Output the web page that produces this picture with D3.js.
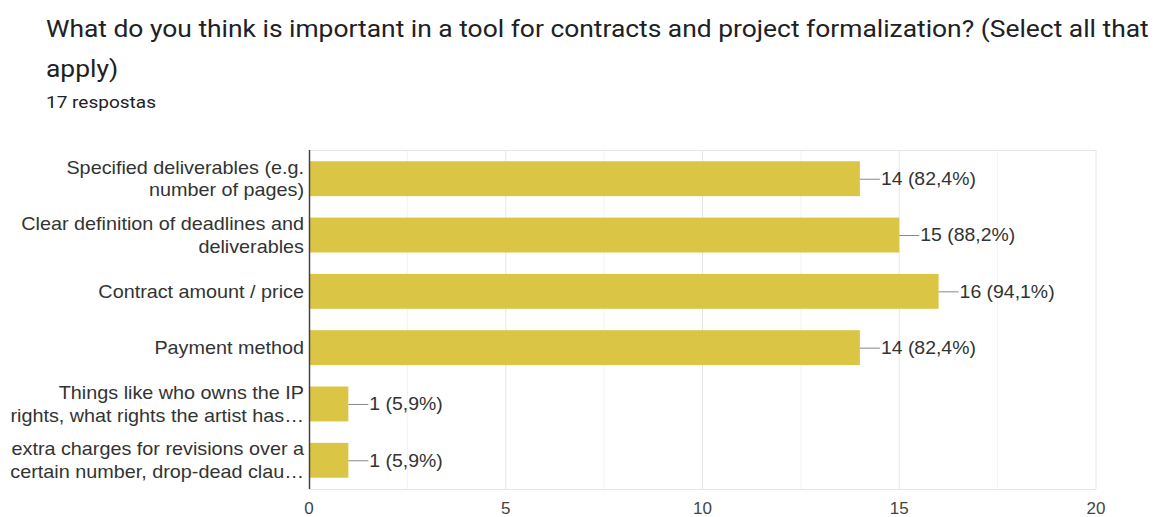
<!DOCTYPE html>
<html>
<head>
<meta charset="utf-8">
<script src="https://cdn.jsdelivr.net/npm/d3@7"></script>
<style>
  html, body { margin: 0; padding: 0; background: #ffffff; }
  svg { display: block; }
</style>
</head>
<body>
<svg id="chart" width="1153" height="517"></svg>
<script>
const titleLines = [
  "What do you think is important in a tool for contracts and project formalization? (Select all that",
  "apply)"
];
const subtitle = "17 respostas";
const categories = [
  "Specified deliverables (e.g.\nnumber of pages)",
  "Clear definition of deadlines and\ndeliverables",
  "Contract amount / price",
  "Payment method",
  "Things like who owns the IP\nrights, what rights the artist has…",
  "extra charges for revisions over a\ncertain number, drop-dead clau…"
];
const counts = [14, 15, 16, 14, 1, 1];
const percents = ["82,4%", "88,2%", "94,1%", "82,4%", "5,9%", "5,9%"];
const tickValues = [0, 5, 10, 15, 20];
const minorTicks = [2.5, 7.5, 12.5, 17.5];

const svg = d3.select("#chart");
const plot = { left: 309, right: 1096, top: 150, bottom: 489 };
const SX = 1.1; // horizontal stretch of text seen in the reference
const stretch = (x0, s = SX) => `translate(${x0},0) scale(${s},1) translate(${-x0},0)`;

// Title
svg.selectAll("text.title").data(titleLines).join("text")
  .attr("class", "title")
  .attr("x", 46)
  .attr("y", (d, i) => 37 + i * 40)
  .attr("transform", stretch(46))
  .attr("font-family", "Roboto, sans-serif")
  .attr("font-size", 24)
  .attr("fill", "#202124")
  .text(d => d);

svg.append("text")
  .attr("x", 46).attr("y", 108)
  .attr("transform", stretch(46, 1.12))
  .attr("font-family", "Roboto, sans-serif")
  .attr("font-size", 17)
  .attr("fill", "#202124")
  .text(subtitle);

const x = d3.scaleLinear().domain([0, 20]).range([plot.left, plot.right]);
const y = d3.scaleBand().domain(categories).range([plot.top, plot.bottom]).paddingInner(0.38).paddingOuter(0.2);

// minor grid
svg.append("g").selectAll("line").data(minorTicks).join("line")
  .attr("x1", d => x(d)).attr("x2", d => x(d))
  .attr("y1", plot.top).attr("y2", plot.bottom)
  .attr("stroke", "#f3f3f3").attr("stroke-width", 1);

// major grid
svg.append("g").selectAll("line").data(tickValues.slice(1)).join("line")
  .attr("x1", d => x(d)).attr("x2", d => x(d))
  .attr("y1", plot.top).attr("y2", plot.bottom)
  .attr("stroke", "#e6e6e6").attr("stroke-width", 1);

// top & bottom borders
svg.append("line").attr("x1", plot.left).attr("x2", plot.right)
  .attr("y1", plot.top + 0.5).attr("y2", plot.top + 0.5)
  .attr("stroke", "#e6e6e6");
svg.append("line").attr("x1", plot.left).attr("x2", plot.right)
  .attr("y1", plot.bottom + 0.5).attr("y2", plot.bottom + 0.5)
  .attr("stroke", "#e6e6e6");

// bars
svg.append("g").selectAll("rect").data(categories).join("rect")
  .attr("x", x(0))
  .attr("y", d => y(d))
  .attr("width", (d, i) => x(counts[i]) - x(0))
  .attr("height", y.bandwidth())
  .attr("fill", "#dbc545");

// vertical axis line
svg.append("line").attr("x1", plot.left + 0.5).attr("x2", plot.left + 0.5)
  .attr("y1", plot.top).attr("y2", plot.bottom)
  .attr("stroke", "#444").attr("stroke-width", 1.5);

// value labels with leader lines
const vl = svg.append("g").selectAll("g").data(categories).join("g");
vl.append("line")
  .attr("x1", (d, i) => x(counts[i]))
  .attr("x2", (d, i) => x(counts[i]) + 20)
  .attr("y1", d => y(d) + y.bandwidth() / 2 + 0.5)
  .attr("y2", d => y(d) + y.bandwidth() / 2 + 0.5)
  .attr("stroke", "#888").attr("stroke-width", 1);
vl.append("text")
  .attr("x", (d, i) => x(counts[i]) + 21)
  .attr("y", d => y(d) + y.bandwidth() / 2)
  .attr("transform", (d, i) => stretch(x(counts[i]) + 21, 1.08))
  .attr("dy", "0.36em")
  .attr("font-family", "'Liberation Sans', Arial, sans-serif")
  .attr("font-size", 18)
  .attr("fill", "#333")
  .text((d, i) => `${counts[i]} (${percents[i]})`);

// category labels
const cl = svg.append("g").selectAll("text").data(categories).join("text")
  .attr("text-anchor", "end")
  .attr("transform", stretch(304))
  .attr("font-family", "'Liberation Sans', Arial, sans-serif")
  .attr("font-size", 18)
  .attr("fill", "#333");
cl.each(function(d) {
  const lines = d.split("\n");
  const cy = y(d) + y.bandwidth() / 2;
  const lh = 22.5;
  const start = cy - (lines.length - 1) * lh / 2;
  d3.select(this).selectAll("tspan").data(lines).join("tspan")
    .attr("x", 304)
    .attr("y", (l, i) => start + i * lh)
    .attr("dy", "0.35em")
    .text(l => l);
});

// x axis tick labels
svg.append("g").selectAll("text").data(tickValues).join("text")
  .attr("x", d => x(d))
  .attr("y", 514)
  .attr("text-anchor", "middle")
  .attr("font-family", "'Liberation Sans', Arial, sans-serif")
  .attr("font-size", 17)
  .attr("fill", "#444")
  .text(d => d);
</script>
</body>
</html>
